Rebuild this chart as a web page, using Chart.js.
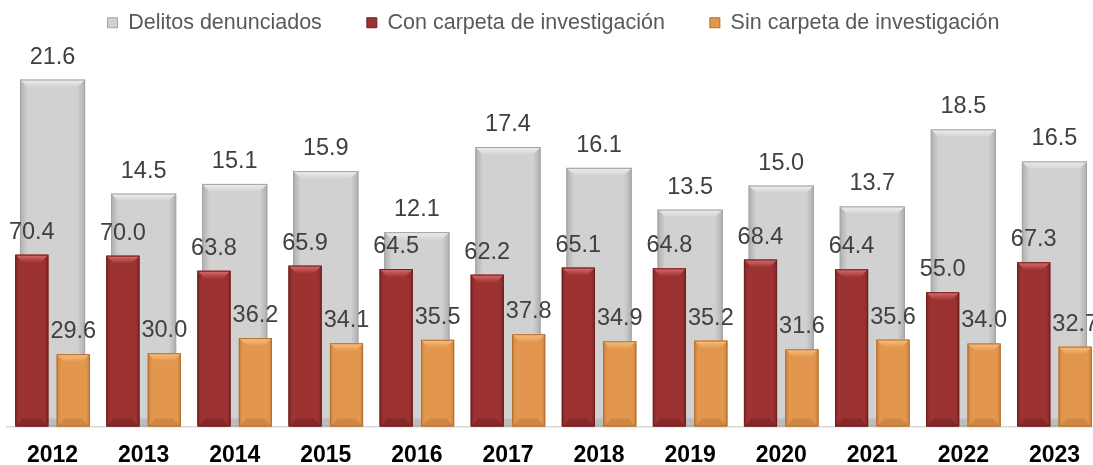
<!DOCTYPE html>
<html lang="es">
<head>
<meta charset="utf-8">
<title>Delitos denunciados</title>
<script src="https://cdn.jsdelivr.net/npm/chart.js@4.4.1/dist/chart.umd.min.js"></script>
<style>
  html, body { margin: 0; padding: 0; background: #fff; overflow: hidden; }
  #contenedor { width: 1100px; height: 465px; position: relative; }
</style>
</head>
<body>
<div id="contenedor"><canvas id="grafico"></canvas></div>
<script>
// Datos: delitos denunciados (millones) y porcentaje con / sin carpeta de investigación
const anios = ['2012', '2013', '2014', '2015', '2016', '2017', '2018', '2019', '2020', '2021', '2022', '2023'];
const delitos = [21.6, 14.5, 15.1, 15.9, 12.1, 17.4, 16.1, 13.5, 15.0, 13.7, 18.5, 16.5];
const conCarpeta = [70.4, 70.0, 63.8, 65.9, 64.5, 62.2, 65.1, 64.8, 68.4, 64.4, 55.0, 67.3];
const sinCarpeta = [29.6, 30.0, 36.2, 34.1, 35.5, 37.8, 34.9, 35.2, 31.6, 35.6, 34.0, 32.7];

// tonos para el efecto de bisel de cada serie (mismo orden que los datasets)
const tonos = [
  { cuerpo: '#d1d1d1', borde: '#afafaf', luz: '#eeeeee', sombra: '#bdbdbd', linea: '#a3a3a3' },
  { cuerpo: '#9d3232', borde: '#802525', luz: '#dc6e6e', sombra: '#862828', linea: '#6e1f1f' },
  { cuerpo: '#e3974e', borde: '#cc823e', luz: '#f9c280', sombra: '#d08743', linea: '#b0702f' }
];

const fuente = "'Liberation Sans', Arial, sans-serif";

// pinta el bisel sobre cada barra usando la geometría que calcula Chart.js
const bisel = {
  id: 'bisel',
  afterDatasetDraw(chart, args) {
    const ctx = chart.ctx;
    const t = tonos[args.index];
    args.meta.data.forEach(barra => {
      const { x, y, base, width } = barra.getProps(['x', 'y', 'base', 'width'], true);
      const l = x - width / 2, r = x + width / 2, h = base - y;
      const b = Math.min(8, h / 2);
      ctx.save();
      const g = ctx.createLinearGradient(l, 0, r, 0);
      g.addColorStop(0, t.borde);
      g.addColorStop(0.12, t.cuerpo);
      g.addColorStop(0.88, t.cuerpo);
      g.addColorStop(1, t.borde);
      ctx.fillStyle = g;
      ctx.fillRect(l, y, width, h);
      // cara superior iluminada
      const gl = ctx.createLinearGradient(0, y, 0, y + b);
      gl.addColorStop(0, t.luz);
      gl.addColorStop(1, t.cuerpo);
      ctx.beginPath();
      ctx.moveTo(l, y); ctx.lineTo(r, y); ctx.lineTo(r - b, y + b); ctx.lineTo(l + b, y + b);
      ctx.closePath();
      ctx.fillStyle = gl;
      ctx.fill();
      // cara inferior en sombra
      ctx.beginPath();
      ctx.moveTo(l, base); ctx.lineTo(r, base); ctx.lineTo(r - b, base - b); ctx.lineTo(l + b, base - b);
      ctx.closePath();
      ctx.fillStyle = t.sombra;
      ctx.fill();
      ctx.strokeStyle = t.linea;
      ctx.lineWidth = 1;
      ctx.strokeRect(l + 0.5, y + 0.5, width - 1, h - 1);
      ctx.restore();
    });
  }
};

// etiquetas de valor sobre cada barra
const etiquetas = {
  id: 'etiquetas',
  afterDatasetsDraw(chart) {
    const ctx = chart.ctx;
    ctx.save();
    ctx.font = '23.5px ' + fuente;
    ctx.fillStyle = '#404040';
    ctx.textAlign = 'center';
    ctx.textBaseline = 'alphabetic';
    chart.data.datasets.forEach((ds, i) => {
      chart.getDatasetMeta(i).data.forEach((barra, j) => {
        ctx.fillText(ds.data[j].toFixed(1), barra.x, barra.y - 16);
      });
    });
    ctx.restore();
  }
};

new Chart(document.getElementById('grafico'), {
  type: 'bar',
  data: {
    labels: anios,
    datasets: [
      {
        label: 'Delitos denunciados',
        data: delitos,
        yAxisID: 'yDel',
        grouped: false,
        order: 1,
        barPercentage: 0.715,
        categoryPercentage: 1,
        backgroundColor: tonos[0].cuerpo,
        borderColor: tonos[0].linea,
        borderWidth: 1
      },
      {
        label: 'Con carpeta de investigación',
        data: conCarpeta,
        yAxisID: 'yPct',
        order: 0,
        barPercentage: 0.8,
        categoryPercentage: 0.91,
        backgroundColor: tonos[1].cuerpo,
        borderColor: tonos[1].linea,
        borderWidth: 1
      },
      {
        label: 'Sin carpeta de investigación',
        data: sinCarpeta,
        yAxisID: 'yPct',
        order: 0,
        barPercentage: 0.8,
        categoryPercentage: 0.91,
        backgroundColor: tonos[2].cuerpo,
        borderColor: tonos[2].linea,
        borderWidth: 1
      }
    ]
  },
  options: {
    responsive: true,
    maintainAspectRatio: false,
    animation: false,
    layout: { padding: { left: 7, right: 0, top: -33, bottom: -19 } },
    plugins: {
      tooltip: { enabled: false },
      legend: {
        position: 'top',
        maxHeight: 74,
        labels: {
          boxWidth: 10,
          boxHeight: 10,
          padding: 45,
          color: '#595959',
          font: { family: fuente, size: 21.5 },
          sort: (a, b) => a.datasetIndex - b.datasetIndex
        }
      }
    },
    scales: {
      x: {
        grid: { display: false, drawTicks: false },
        border: { display: true, color: '#d9d9d9', width: 1.5 },
        ticks: {
          color: '#000',
          padding: 15,
          font: { family: fuente, size: 23, weight: 'bold' }
        }
      },
      yDel: { display: false, min: 0, max: 24 },
      yPct: { display: false, min: 0, max: 158 }
    }
  },
  plugins: [bisel, etiquetas]
});
</script>
</body>
</html>
